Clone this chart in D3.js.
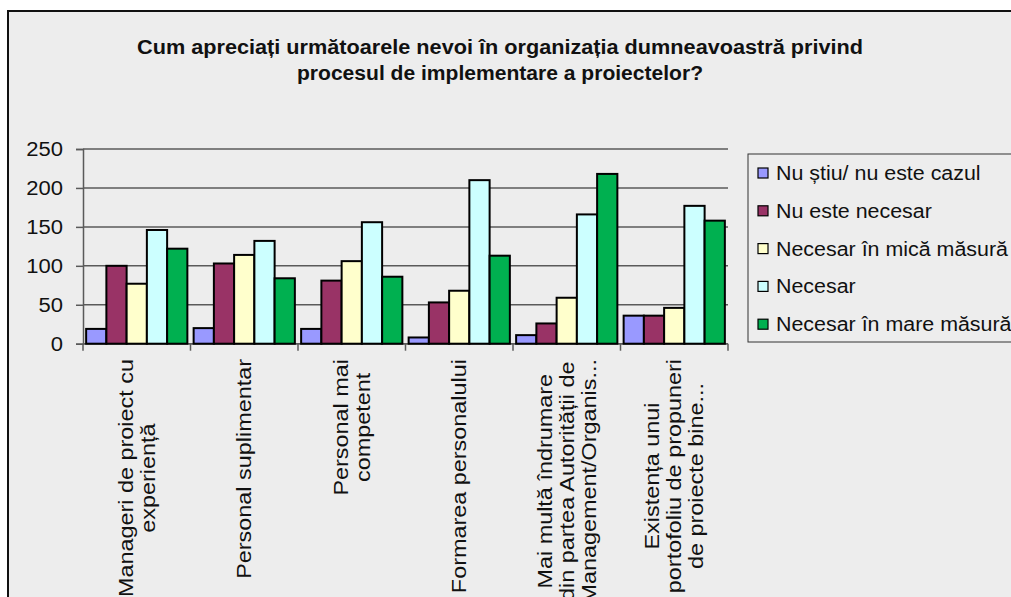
<!DOCTYPE html>
<html><head><meta charset="utf-8">
<script src="https://cdn.jsdelivr.net/npm/d3@7"></script>
<style>
html,body{margin:0;padding:0;background:#fff;}
svg{display:block;font-family:"Liberation Sans",Arial,sans-serif;}
</style></head>
<body>
<svg id="chart" width="1011" height="597"></svg>
<script>
const titleLines = ["Cum apreciați următoarele nevoi în organizația dumneavoastră privind","procesul de implementare a proiectelor?"];
const categories = [
  ["Manageri de proiect cu","experiență"],
  ["Personal suplimentar"],
  ["Personal mai","competent"],
  ["Formarea personalului"],
  ["Mai multă îndrumare","din partea Autorității de","Management/Organis..."],
  ["Existența unui","portofoliu de propuneri","de proiecte bine..."]
];
const seriesNames = ["Nu știu/ nu este cazul","Nu este necesar","Necesar în mică măsură","Necesar","Necesar în mare măsură"];
const seriesColors = ["#9999FF","#993366","#FFFFCC","#CCFFFF","#00B050"];
const nuStiu      = [19, 20, 19, 8, 11, 36];
const nuNecesar   = [100, 103, 81, 53, 26, 36];
const micaMasura  = [77, 114, 106, 68, 59, 46];
const necesar     = [146, 132, 156, 210, 166, 177];
const mareMasura  = [122, 84, 86, 113, 218, 158];
const yTicks = [0, 50, 100, 150, 200, 250];

(function(){
const seriesValues = [nuStiu, nuNecesar, micaMasura, necesar, mareMasura];
const svg = d3.select("#chart");

// frame
svg.append("rect").attr("x",8).attr("y",11).attr("width",1011).attr("height",600)
  .attr("fill","#ededed").attr("stroke","#111").attr("stroke-width",2);

// title
const tl = [{t:titleLines[0], y:54, w:726},{t:titleLines[1], y:80, w:406}];
svg.selectAll("text.title").data(tl).join("text").attr("class","title")
  .attr("x",500).attr("y",d=>d.y).attr("text-anchor","middle")
  .attr("font-size",20).attr("font-weight","bold").attr("fill","#111")
  .attr("textLength",d=>d.w).attr("lengthAdjust","spacingAndGlyphs")
  .text(d=>d.t);

const pLeft=83, pRight=728, pTop=149, pBottom=343.7;
const x0 = d3.scaleBand().domain(d3.range(categories.length)).range([pLeft,pRight]).paddingInner(0).paddingOuter(0);
const x1 = d3.scaleBand().domain(d3.range(seriesNames.length)).range([0,x0.bandwidth()]).paddingOuter(0.155).paddingInner(0);
const y = d3.scaleLinear().domain([0,250]).range([pBottom,pTop]);

// gridlines
svg.append("g").selectAll("line").data(yTicks).join("line")
  .attr("x1",pLeft).attr("x2",pRight).attr("y1",d=>y(d)).attr("y2",d=>y(d))
  .attr("stroke","#5a5a5a").attr("stroke-width",1.5);

// y axis
const yAxis = svg.append("g").attr("transform",`translate(${pLeft},0)`)
  .call(d3.axisLeft(y).tickValues(yTicks).tickSize(7).tickPadding(13));
yAxis.select(".domain").attr("stroke","#5a5a5a").attr("stroke-width",1.5);
yAxis.selectAll(".tick line").attr("stroke","#5a5a5a").attr("stroke-width",1.5);
yAxis.selectAll(".tick text").attr("font-size",20).attr("fill","#111")
  .attr("font-family","Liberation Sans, Arial, sans-serif")
  .each(function(){ const w=this.getComputedTextLength(); d3.select(this).attr("textLength",w*1.1).attr("lengthAdjust","spacingAndGlyphs"); });

// x axis line & ticks at boundaries
const bounds = d3.range(categories.length+1).map(i => i<categories.length ? x0(i) : pRight);
svg.append("line").attr("x1",pLeft).attr("x2",pRight).attr("y1",pBottom).attr("y2",pBottom)
  .attr("stroke","#5a5a5a").attr("stroke-width",1.5);
svg.append("g").selectAll("line").data(bounds).join("line")
  .attr("x1",d=>d).attr("x2",d=>d).attr("y1",pBottom).attr("y2",pBottom+7)
  .attr("stroke","#5a5a5a").attr("stroke-width",1.5);

// bars
const g = svg.append("g");
categories.forEach((c,ci)=>{
  seriesValues.forEach((vals,si)=>{
    g.append("rect")
      .attr("x",x0(ci)+x1(si)).attr("width",x1.bandwidth())
      .attr("y",y(vals[ci])).attr("height",pBottom-y(vals[ci]))
      .attr("fill",seriesColors[si]).attr("stroke","#000").attr("stroke-width",2);
  });
});

// category labels rotated
const lineH = 22, stretch = 1.17;
categories.forEach((lines,ci)=>{
  const cx = x0(ci)+x0.bandwidth()/2;
  const grp = svg.append("g");
  const texts = lines.map((t,li)=> grp.append("text").attr("font-size",20).attr("fill","#111")
     .attr("text-anchor","middle").text(t));
  const widths = texts.map(t=>t.node().getComputedTextLength()*stretch);
  texts.forEach((t,li)=>t.attr("textLength",widths[li]).attr("lengthAdjust","spacingAndGlyphs"));
  const maxW = d3.max(widths);
  const cy = 359 + maxW/2;
  const n = lines.length;
  texts.forEach((t,li)=>{
    const bx = cx + (li-(n-1)/2)*lineH + 7;
    t.attr("transform",`translate(${bx},${cy}) rotate(-90)`);
  });
});

// legend
const lg = svg.append("g");
lg.append("rect").attr("x",748).attr("y",154).attr("width",300).attr("height",188)
  .attr("fill","#ededed").attr("stroke","#333").attr("stroke-width",1);
seriesNames.forEach((s,i)=>{
  const cy = 173 + i*37.8;
  lg.append("rect").attr("x",758).attr("y",cy-5).attr("width",10).attr("height",10)
    .attr("fill",seriesColors[i]).attr("stroke","#000").attr("stroke-width",1.2);
  const t = lg.append("text").attr("x",776).attr("y",cy+7).attr("font-size",20).attr("fill","#111").text(s);
  const w = t.node().getComputedTextLength();
  t.attr("textLength",w*1.07).attr("lengthAdjust","spacingAndGlyphs");
});
})();
</script>
</body></html>
